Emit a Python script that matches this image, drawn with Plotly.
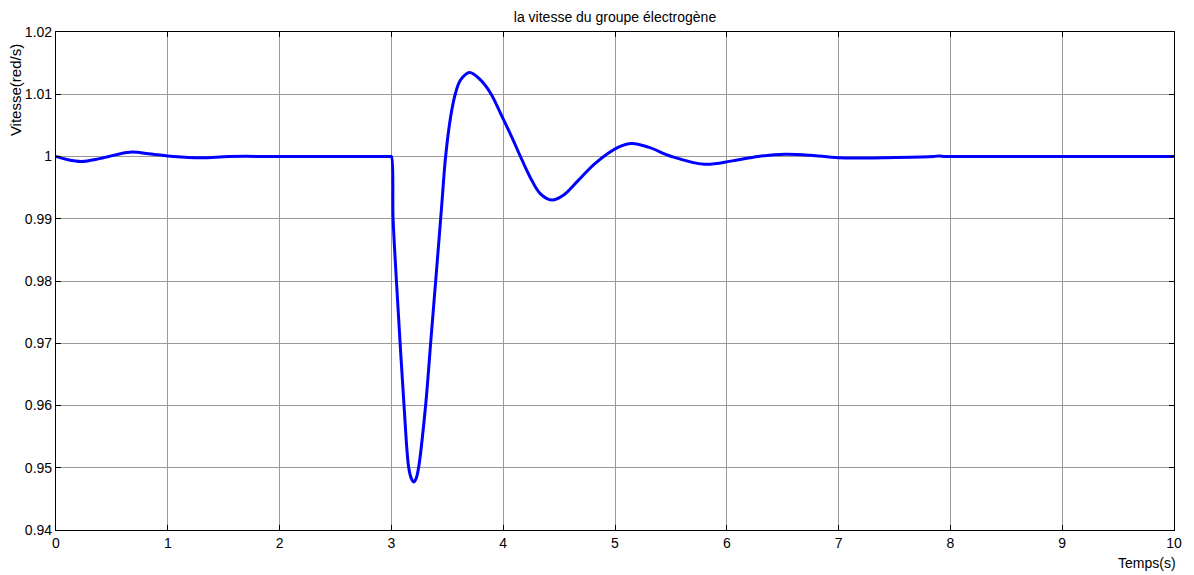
import plotly.graph_objects as go

# Data
t = [0, 0.1, 0.23, 0.4, 0.66, 0.85, 1.05, 1.3, 1.55, 2.0, 2.5, 2.99, 3.0,
     3.015, 3.045, 3.078, 3.113, 3.155, 3.18, 3.2, 3.22, 3.243, 3.306, 3.351, 3.396, 3.449, 3.485,
     3.53, 3.574, 3.619, 3.699, 3.797, 3.886, 3.99, 4.08, 4.154, 4.243, 4.333, 4.437,
     4.541, 4.674, 4.823, 5.031, 5.15, 5.3, 5.507, 5.8, 6.05, 6.28, 6.52, 6.75, 7.0,
     7.5, 7.85, 7.9, 7.95, 8.0, 9.0, 10.0]
v = [1.0, 0.9995, 0.9992, 0.9997, 1.0007, 1.0004, 1.0, 0.9998, 1.0, 1.0, 1.0, 1.0, 1.0,
     0.99, 0.98, 0.97, 0.96, 0.95, 0.9482, 0.9477, 0.9482, 0.95, 0.96, 0.97, 0.98, 0.9919, 1.0,
     1.0064, 1.0102, 1.0123, 1.0135, 1.0123, 1.0102, 1.0064, 1.0030, 1.0, 0.9966, 0.9940, 0.9930,
     0.9938, 0.9962, 0.9989, 1.0015, 1.0021, 1.0015, 1.0, 0.99875, 0.9993, 1.0, 1.00035, 1.0002, 0.9998,
     0.99985, 1.0, 1.0001, 1.0, 1.0, 1.0, 1.0]

x_ticks = [0, 1, 2, 3, 4, 5, 6, 7, 8, 9, 10]
x_labels = ["0", "1", "2", "3", "4", "5", "6", "7", "8", "9", "10"]
y_ticks = [0.94, 0.95, 0.96, 0.97, 0.98, 0.99, 1.0, 1.01, 1.02]
y_labels = ["0.94", "0.95", "0.96", "0.97", "0.98", "0.99", "1", "1.01", "1.02"]

title = "la vitesse du groupe électrogène"
xlabel = "Temps(s)"
ylabel = "Vitesse(red/s)"

font = "Liberation Sans, Arial, sans-serif"

fig = go.Figure()
fig.add_trace(go.Scatter(x=t, y=v, mode="lines",
                         line=dict(color="#0000ff", width=3, shape="spline", smoothing=1.0),
                         showlegend=False))

axis_common = dict(showline=True, linecolor="black", linewidth=1.2, mirror="ticks",
                   ticks="inside", ticklen=5, tickcolor="black", tickwidth=1,
                   showgrid=True, gridcolor="#9a9a9a", gridwidth=1, zeroline=False,
                   tickfont=dict(family=font, size=14, color="black"))

fig.update_xaxes(range=[0, 10], tickvals=x_ticks, ticktext=x_labels, **axis_common)
fig.update_yaxes(range=[0.94, 1.02], tickvals=y_ticks, ticktext=y_labels, **axis_common)

# page body has an 8px margin, so the figure is sized/offset accordingly
W, H = 1186, 567
L, T, R, B = 48, 24, 17, 45
plot_w = W - L - R
plot_h = H - T - B

fig.update_layout(
    width=W, height=H,
    margin=dict(l=L, r=R, t=T, b=B),
    paper_bgcolor="white", plot_bgcolor="white",
    font=dict(family=font, size=14, color="black"),
    title=dict(text=title, xref="paper", x=0.5, xanchor="center",
               y=1 - 9 / H, yanchor="middle",
               font=dict(family=font, size=14, color="black")),
    annotations=[
        dict(text=xlabel, xref="paper", yref="paper", x=1.0 + 4 / plot_w, y=-23 / plot_h,
             xanchor="right", yanchor="top", showarrow=False,
             font=dict(family=font, size=14, color="black")),
        dict(text=ylabel, xref="paper", yref="paper", x=(7 - L) / plot_w,
             y=1 - 58 / plot_h, xanchor="center", yanchor="middle", textangle=-90,
             showarrow=False, font=dict(family=font, size=15, color="black")),
    ],
)

fig.write_html("out.html")
